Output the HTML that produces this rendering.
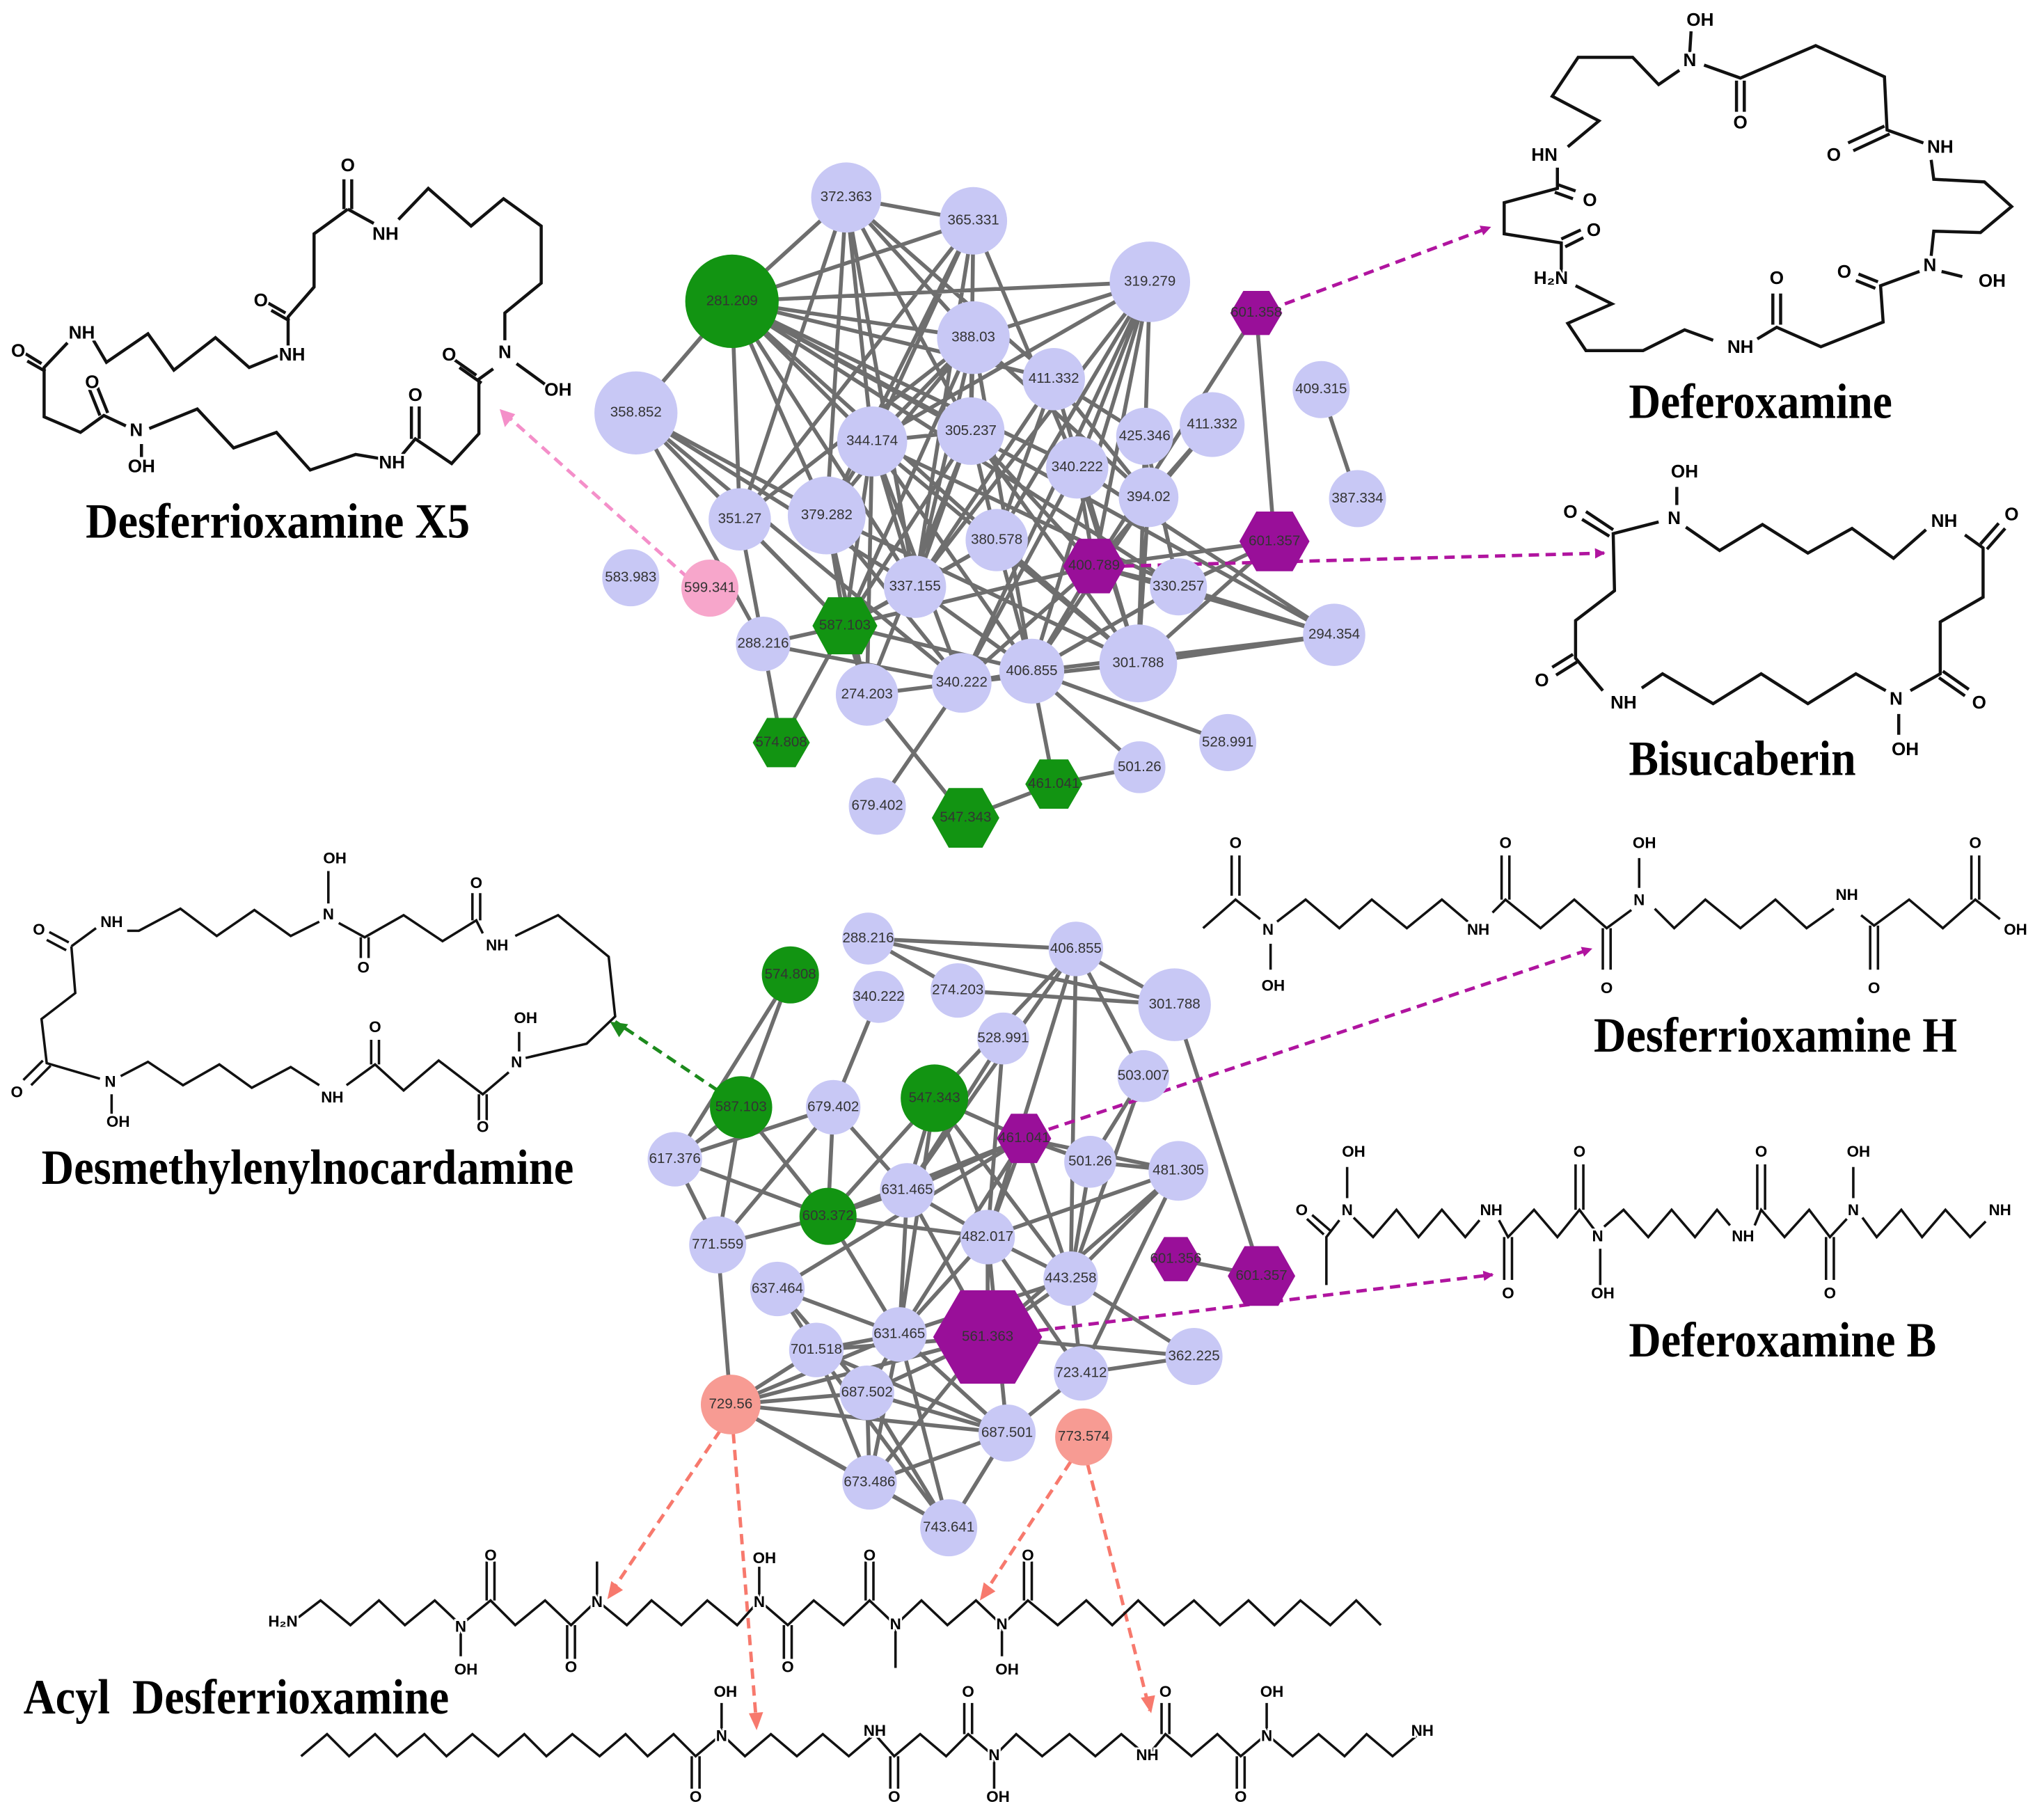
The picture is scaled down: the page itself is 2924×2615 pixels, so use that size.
<!DOCTYPE html>
<html><head><meta charset="utf-8"><style>
html,body{margin:0;padding:0;background:#fff}
svg{display:block}
.n{font-family:"Liberation Sans",sans-serif;font-size:11px;fill:#333;text-anchor:middle;dominant-baseline:middle}
.t{font-family:"Liberation Serif",serif;font-weight:bold;font-size:38px;fill:#000}
.a{font-family:"Liberation Sans",sans-serif;font-weight:bold;font-size:14px;fill:#000;text-anchor:middle;dominant-baseline:middle;stroke:#fff;stroke-width:3px;paint-order:stroke}
.b{font-family:"Liberation Sans",sans-serif;font-weight:bold;font-size:12px;fill:#000;text-anchor:middle;dominant-baseline:middle;stroke:#fff;stroke-width:3px;paint-order:stroke}
.s{fill:none;stroke:#111;stroke-width:2.4;stroke-linejoin:miter}
.s2{fill:none;stroke:#111;stroke-width:1.9;stroke-linejoin:miter}
.e{stroke:#6e6e6e;stroke-width:3}
</style></head><body>
<svg width="2924" height="2615" viewBox="0 0 1568 1402" xmlns="http://www.w3.org/2000/svg">
<defs>
<marker id="mp" markerWidth="8" markerHeight="8" refX="7" refY="4" orient="auto" markerUnits="userSpaceOnUse" viewBox="0 0 8 8"><path d="M0,0L8,4L0,8z" fill="#b0149f"/></marker>
</defs>
<g class="e">
<path d="M564,232L652,152M564,232L750,170M564,232L886,217M564,232L750,260M564,232L672,340M564,232L748,332M564,232L830,360M564,232L768,416M564,232L490,318M564,232L637,397M564,232L705,452M564,232L908,452M564,232L1028,489M564,232L812,292M564,232L570,400
M652,152L750,260M652,152L672,340M652,152L748,332M652,152L637,397M652,152L705,452M652,152L812,292M652,152L750,170M652,152L570,400
M750,170L672,340M750,170L637,397M750,170L748,332M750,170L705,452M750,170L570,400M750,170L830,360
M886,217L750,260M886,217L672,340M886,217L843,436M886,217L877,511M886,217L795,517M886,217L741,526M886,217L768,416M886,217L705,452M886,217L830,360
M750,260L672,340M750,260L748,332M750,260L637,397M750,260L705,452M750,260L795,517M750,260L651,482M750,260L885,383M750,260L570,400
M812,292L882,336M812,292L768,416M812,292L705,452M812,292L885,383M812,292L877,511
M490,318L651,482M490,318L588,496M490,318L637,397M490,318L705,452M490,318L741,526
M672,340L748,332M672,340L637,397M672,340L705,452M672,340L651,482M672,340L795,517M672,340L877,511M672,340L908,452M672,340L741,526M672,340L668,535
M748,332L768,416M748,332L705,452M748,332L651,482M748,332L843,436M748,332L877,511M748,332L668,535
M968,241L982,417M968,241L843,436M934,327L843,436M1018,300L1046,384M934,327L885,383M882,336L885,383M882,336L908,452
M830,360L877,511M830,360L741,526M830,360L843,436M830,360L1028,489M885,383L877,511M885,383L795,517
M570,400L651,482M570,400L588,496M637,397L651,482M637,397L668,535M637,397L741,526M637,397L877,511
M768,416L705,452M768,416L651,482M768,416L795,517M768,416L877,511M843,436L982,417M843,436L908,452M843,436L795,517M843,436L741,526M843,436L651,482M843,436L1028,489
M982,417L908,452M982,417L877,511M908,452L1028,489M877,511L1028,489M795,517L1028,489M877,511L741,526
M705,452L651,482M705,452L795,517M651,482L588,496M651,482L668,535M651,482L602,572M651,482L795,517M588,496L602,572M588,496L741,526
M668,535L744,630M741,526L676,621M741,526L795,517M795,517L878,591M795,517L946,572M795,517L812,604M812,604L878,591M744,630L812,604M741,526L668,535M908,452L795,517"/>
</g>
<g class="e">
<path d="M669,723L829,731M669,723L905,774M669,723L738,763M609,751L571,853M609,751L520,893M677,768L642,853M738,763L905,774M829,731L905,774M829,731L761,953M829,731L699,917M829,731L720,846M829,731L825,985M829,731L881,829M905,774L972,983
M773,800L699,917M773,800L761,953M881,829L840,895M881,829L825,985
M571,853L638,937M571,853L520,893M571,853L553,959M642,853L638,937M642,853L553,959M642,853L520,893M642,853L699,917
M720,846L699,917M720,846L761,953M720,846L693,1028M720,846L638,937M720,846L789,877M720,846L825,985
M789,877L840,895M789,877L908,902M789,877L761,953M789,877L638,937M789,877L699,917M789,877L825,985M789,877L693,1028M789,877L599,993
M840,895L908,902M840,895L825,985M908,902L825,985M908,902L761,953M908,902L833,1058M908,902L761,1030
M520,893L638,937M520,893L553,959M553,959L638,937M553,959L563,1082M638,937L699,917M638,937L761,953M638,937L693,1028
M699,917L761,953M699,917L693,1028M699,917L761,1030M761,953L825,985M761,953L693,1028M761,953L761,1030M761,953L833,1058M761,953L776,1104
M906,970L972,983M825,985L920,1045M825,985L761,1030M825,985L833,1058M825,985L693,1028
M599,993L693,1028M599,993L629,1040M599,993L668,1073M693,1028L776,1104M693,1028L668,1073M693,1028L629,1040M693,1028L731,1177M693,1028L670,1142
M761,1030L920,1045M761,1030L668,1073M761,1030L670,1142M761,1030L629,1040M761,1030L563,1082M833,1058L920,1045M833,1058L776,1104
M629,1040L563,1082M629,1040L776,1104M629,1040L731,1177M563,1082L668,1073M563,1082L776,1104M563,1082L670,1142M563,1082L731,1177M563,1082L693,1028
M668,1073L776,1104M668,1073L670,1142M668,1073L731,1177M776,1104L731,1177M776,1104L670,1142M670,1142L731,1177M629,1040L670,1142"/>
</g>
<g fill="none" stroke-width="2.6" stroke-dasharray="8,5">
<line x1="530" y1="445" x2="385" y2="315" stroke="#f48fc9"/>
<line x1="990" y1="234" x2="1148" y2="175" stroke="#b0149f" marker-end="url(#mp)"/>
<line x1="866" y1="436" x2="1236" y2="426" stroke="#b0149f" marker-end="url(#mp)"/>
<line x1="553" y1="840" x2="474" y2="787" stroke="#1c8a1c"/>
<line x1="808" y1="870" x2="1226" y2="731" stroke="#b0149f" marker-end="url(#mp)"/>
<line x1="800" y1="1025" x2="1150" y2="982" stroke="#b0149f" marker-end="url(#mp)"/>
<line x1="555" y1="1102" x2="470" y2="1228" stroke="#f7796d"/>
<line x1="565" y1="1104" x2="583" y2="1330" stroke="#f7796d"/>
<line x1="825" y1="1126" x2="757" y2="1230" stroke="#f7796d"/>
<line x1="838" y1="1128" x2="886" y2="1318" stroke="#f7796d"/>
</g>
<g>
<path d="M385,315l4,14l8,-10z" fill="#f48fc9"/>
<path d="M470,787l14,2l-7,10z" fill="#1c8a1c"/>
<path d="M468,1232l3,-14l9,7z" fill="#f7796d"/>
<path d="M583,1333l-6,-13l11,-1z" fill="#f7796d"/>
<path d="M755,1233l3,-14l9,7z" fill="#f7796d"/>
<path d="M887,1320l-8,-12l11,-2z" fill="#f7796d"/>
</g>
<g fill="#c8c8f5">
<circle cx="652" cy="152" r="27"/><circle cx="750" cy="170" r="26"/><circle cx="886" cy="217" r="31"/><circle cx="750" cy="260" r="28"/><circle cx="812" cy="292" r="24"/><circle cx="1018" cy="300" r="22"/><circle cx="490" cy="318" r="32"/><circle cx="672" cy="340" r="27"/><circle cx="748" cy="332" r="26"/><circle cx="882" cy="336" r="22"/><circle cx="934" cy="327" r="25"/><circle cx="830" cy="360" r="24"/><circle cx="885" cy="383" r="23"/><circle cx="1046" cy="384" r="22"/><circle cx="570" cy="400" r="24"/><circle cx="637" cy="397" r="30"/><circle cx="768" cy="416" r="24"/><circle cx="908" cy="452" r="22"/><circle cx="486" cy="445" r="22"/><circle cx="705" cy="452" r="24"/><circle cx="588" cy="496" r="21"/><circle cx="1028" cy="489" r="24"/><circle cx="877" cy="511" r="30"/><circle cx="795" cy="517" r="25"/><circle cx="741" cy="526" r="23"/><circle cx="668" cy="535" r="24"/><circle cx="946" cy="572" r="22"/><circle cx="878" cy="591" r="20"/><circle cx="676" cy="621" r="22"/>
</g>
<circle cx="564" cy="232" r="36" fill="#129412"/>
<circle cx="547" cy="453" r="22" fill="#f7a6cb"/>
<g fill="#990f99">
<polygon points="948,241 958,224 978,224 988,241 978,258 958,258"/>
<polygon points="819,436 831,415 855,415 867,436 855,457 831,457"/>
<polygon points="955,417 968,394 996,394 1009,417 996,440 968,440"/>
</g>
<g fill="#129412">
<polygon points="626,482 638,460 664,460 676,482 664,504 638,504"/>
<polygon points="580,572 591,553 613,553 624,572 613,591 591,591"/>
<polygon points="790,604 801,585 823,585 834,604 823,623 801,623"/>
<polygon points="718,630 731,607 757,607 770,630 757,653 731,653"/>
</g>
<g class="n">
<text x="652" y="152">372.363</text><text x="750" y="170">365.331</text><text x="564" y="232">281.209</text><text x="886" y="217">319.279</text><text x="968" y="241">601.358</text><text x="750" y="260">388.03</text><text x="812" y="292">411.332</text><text x="1018" y="300">409.315</text><text x="490" y="318">358.852</text><text x="672" y="340">344.174</text><text x="748" y="332">305.237</text><text x="882" y="336">425.346</text><text x="934" y="327">411.332</text><text x="830" y="360">340.222</text><text x="885" y="383">394.02</text><text x="1046" y="384">387.334</text><text x="570" y="400">351.27</text><text x="637" y="397">379.282</text><text x="768" y="416">380.578</text><text x="843" y="436">400.789</text><text x="982" y="417">601.357</text><text x="908" y="452">330.257</text><text x="486" y="445">583.983</text><text x="547" y="453">599.341</text><text x="705" y="452">337.155</text><text x="651" y="482">587.103</text><text x="588" y="496">288.216</text><text x="1028" y="489">294.354</text><text x="877" y="511">301.788</text><text x="795" y="517">406.855</text><text x="741" y="526">340.222</text><text x="668" y="535">274.203</text><text x="946" y="572">528.991</text><text x="602" y="572">574.808</text><text x="878" y="591">501.26</text><text x="812" y="604">461.041</text><text x="676" y="621">679.402</text><text x="744" y="630">547.343</text>
</g>
<g fill="#c8c8f5">
<circle cx="669" cy="723" r="20"/><circle cx="829" cy="731" r="21"/><circle cx="677" cy="768" r="20"/><circle cx="738" cy="763" r="21"/><circle cx="905" cy="774" r="28"/><circle cx="773" cy="800" r="20"/><circle cx="881" cy="829" r="20"/><circle cx="642" cy="853" r="21"/><circle cx="840" cy="895" r="20"/><circle cx="908" cy="902" r="23"/><circle cx="520" cy="893" r="21"/><circle cx="699" cy="917" r="21"/><circle cx="761" cy="953" r="21"/><circle cx="553" cy="959" r="22"/><circle cx="825" cy="985" r="21"/><circle cx="599" cy="993" r="21"/><circle cx="693" cy="1028" r="21"/><circle cx="629" cy="1040" r="21"/><circle cx="833" cy="1058" r="21"/><circle cx="920" cy="1045" r="22"/><circle cx="668" cy="1073" r="21"/><circle cx="776" cy="1104" r="22"/><circle cx="670" cy="1142" r="21"/><circle cx="731" cy="1177" r="22"/>
</g>
<g fill="#129412">
<circle cx="609" cy="751" r="22"/><circle cx="571" cy="853" r="24"/><circle cx="720" cy="846" r="26"/><circle cx="638" cy="937" r="22"/>
</g>
<g fill="#f79b93"><circle cx="563" cy="1082" r="23"/><circle cx="835" cy="1107" r="22"/></g>
<g fill="#990f99">
<polygon points="768,877 779,858 799,858 810,877 799,896 779,896"/>
<polygon points="887,970 897,953 915,953 925,970 915,987 897,987"/>
<polygon points="946,983 959,960 985,960 998,983 985,1006 959,1006"/>
<polygon points="719,1030 740,994 782,994 803,1030 782,1066 740,1066"/>
</g>
<g class="n">
<text x="669" y="723">288.216</text><text x="829" y="731">406.855</text><text x="609" y="751">574.808</text><text x="677" y="768">340.222</text><text x="738" y="763">274.203</text><text x="905" y="774">301.788</text><text x="773" y="800">528.991</text><text x="881" y="829">503.007</text><text x="571" y="853">587.103</text><text x="642" y="853">679.402</text><text x="720" y="846">547.343</text><text x="789" y="877">461.041</text><text x="840" y="895">501.26</text><text x="908" y="902">481.305</text><text x="520" y="893">617.376</text><text x="638" y="937">603.372</text><text x="699" y="917">631.465</text><text x="761" y="953">482.017</text><text x="553" y="959">771.559</text><text x="906" y="970">601.356</text><text x="972" y="983">601.357</text><text x="825" y="985">443.258</text><text x="599" y="993">637.464</text><text x="761" y="1030">561.363</text><text x="693" y="1028">631.465</text><text x="629" y="1040">701.518</text><text x="833" y="1058">723.412</text><text x="920" y="1045">362.225</text><text x="563" y="1082">729.56</text><text x="668" y="1073">687.502</text><text x="776" y="1104">687.501</text><text x="835" y="1107">773.574</text><text x="670" y="1142">673.486</text><text x="731" y="1177">743.641</text>
</g>

<path class="s" d="M265,161L265,138M271,161L271,138M268,161L288,172M307,169L330,145L363,174L388,153L417,174L417,218L389,241L389,262M398,280L420,296M380,284L369,292L369,334L348,357L320,338L310,350M367,289L350,277M371,295L354,283M317,338L317,313M323,338L323,313M292,353L274,350L239,362L213,333L180,345L152,315L115,330M109,342L109,352M97,328L80,320L62,333L34,321L34,283L52,264M77,320L69,300M83,318L75,298M32,280L19,272M35,286L21,278M72,262L82,279L114,257L134,285L166,260L192,283L214,274M222,266L222,244L242,221L242,180L268,161M220,241L206,233M223,247L209,239"/>
<g class="a">
<text x="268" y="128">O</text><text x="297" y="181">NH</text><text x="389" y="272">N</text><text x="430" y="301">OH</text><text x="346" y="274">O</text><text x="320" y="305">O</text><text x="302" y="357">NH</text><text x="105" y="332">N</text><text x="109" y="360">OH</text><text x="71" y="295">O</text><text x="14" y="271">O</text><text x="63" y="257">NH</text><text x="225" y="274">NH</text><text x="201" y="232">O</text>
</g>
<text class="t" x="66" y="414" textLength="296" lengthAdjust="spacingAndGlyphs">Desferrioxamine X5</text>

<path class="s" d="M1303,24L1302,40M1313,50L1341,60L1399,35L1452,59L1454,100L1482,110M1488,123L1490,138L1529,140L1550,159L1526,179L1490,178L1488,197M1479,209L1449,220L1451,248L1403,267L1369,252L1354,261M1320,262L1298,254L1266,270L1222,270L1208,249L1242,234L1214,220M1203,210L1203,187L1159,180L1159,156L1200,145L1200,129M1208,113L1232,93L1196,74L1216,44L1258,44L1278,65L1294,54
M1338,62L1338,86M1344,62L1344,86M1452,97L1424,110M1456,103L1428,116M1496,209L1512,213M1447,217L1432,211M1445,222L1430,216M1366,250L1366,226M1372,250L1372,226M1203,184L1218,177M1206,190L1220,183M1200,142L1214,147M1198,148L1212,153"/>
<g class="a">
<text x="1310" y="16">OH</text><text x="1302" y="47">N</text><text x="1341" y="95">O</text><text x="1413" y="120">O</text><text x="1495" y="114">NH</text><text x="1487" y="205">N</text><text x="1535" y="217">OH</text><text x="1421" y="210">O</text><text x="1369" y="215">O</text><text x="1341" y="268">NH</text><text x="1195" y="215">H₂N</text><text x="1228" y="178">O</text><text x="1225" y="155">O</text><text x="1190" y="120">HN</text>
</g>
<text class="t" x="1255" y="322" textLength="203" lengthAdjust="spacingAndGlyphs">Deferoxamine</text>

<path class="s" d="M1292,375L1292,389M1278,402L1243,411L1244,455L1214,478L1214,507L1235,532M1265,530L1281,519L1320,542L1357,519L1393,542L1430,519L1453,532M1463,550L1463,566M1472,532L1495,519L1495,479L1528,460L1528,422L1514,412M1484,408L1459,430L1427,407L1393,426L1358,404L1325,424L1299,406
M1243,408L1222,394M1240,413L1219,400M1212,504L1196,514M1215,510L1199,520M1497,517L1517,531M1494,522L1514,536M1526,419L1540,403M1531,423L1545,407"/>
<g class="a">
<text x="1298" y="364">OH</text><text x="1290" y="400">N</text><text x="1210" y="395">O</text><text x="1498" y="402">NH</text><text x="1550" y="397">O</text><text x="1188" y="525">O</text><text x="1251" y="542">NH</text><text x="1461" y="539">N</text><text x="1525" y="542">O</text><text x="1468" y="578">OH</text>
</g>
<text class="t" x="1255" y="597" textLength="175" lengthAdjust="spacingAndGlyphs">Bisucaberin</text>

<path class="s2" d="M927,715L952,693L971,708M949,690L949,659M955,690L955,659M979,727L979,747M984,710L1006,693L1032,715L1057,693L1084,715L1111,693L1131,710M1150,703L1160,693L1187,715L1213,693L1238,715L1257,701M1157,693L1157,659M1163,693L1163,659M1235,715L1235,747M1241,715L1241,747M1263,684L1263,661M1275,700L1290,715L1314,693L1341,715L1368,693L1392,715L1413,700M1434,705L1444,713L1471,693L1497,715L1522,693L1541,708M1441,713L1441,747M1447,713L1447,747M1519,693L1519,659M1525,693L1525,659"/>
<g class="b">
<text x="952" y="650">O</text><text x="977" y="717">N</text><text x="981" y="760">OH</text><text x="1139" y="717">NH</text><text x="1160" y="650">O</text><text x="1238" y="762">O</text><text x="1263" y="694">N</text><text x="1267" y="650">OH</text><text x="1423" y="690">NH</text><text x="1444" y="762">O</text><text x="1522" y="650">O</text><text x="1553" y="717">OH</text>
</g>
<text class="t" x="1228" y="810" textLength="280" lengthAdjust="spacingAndGlyphs">Desferrioxamine H</text>

<path class="s2" d="M55,729L74,715M98,717L107,717L139,700L167,721L196,701L224,721L246,710M253,696L253,671M261,711L281,722L311,705L341,725L367,709L372,719M278,722L278,738M284,722L284,738M364,709L364,688M370,709L370,688M397,721L430,705L469,737L474,783L452,804L405,815M400,810L400,795M392,826L372,843L338,817L311,840L289,820L267,836M369,843L369,863M375,843L375,863M286,820L286,801M292,820L292,801M246,836L224,822L194,838L169,820L141,836L114,818L93,829M86,843L86,858M77,831L36,819L32,785L58,765L55,729M53,726L38,718M51,732L36,724M33,817L18,832M39,821L24,836"/>
<g class="b">
<text x="258" y="662">OH</text><text x="253" y="705">N</text><text x="30" y="717">O</text><text x="86" y="711">NH</text><text x="280" y="746">O</text><text x="367" y="681">O</text><text x="383" y="729">NH</text><text x="405" y="785">OH</text><text x="398" y="819">N</text><text x="372" y="869">O</text><text x="289" y="792">O</text><text x="256" y="846">NH</text><text x="85" y="834">N</text><text x="91" y="865">OH</text><text x="13" y="842">O</text>
</g>
<text class="t" x="32" y="912" textLength="410" lengthAdjust="spacingAndGlyphs">Desmethylenylnocardamine</text>

<path class="s2" d="M1022,990L1022,953L1032,940M1020,951L1007,939M1025,948L1011,936M1038,923L1038,899M1043,938L1058,953L1076,932L1093,953L1111,932L1129,953L1140,940M1155,940L1162,953L1182,932L1200,953L1217,932L1229,948M1159,953L1159,986M1165,953L1165,986M1214,932L1214,897M1220,932L1220,897M1233,962L1233,990M1236,945L1251,932L1270,953L1288,932L1306,953L1323,932L1333,944M1352,944L1357,932L1375,953L1394,932L1410,953L1423,939M1354,932L1354,897M1360,932L1360,897M1407,953L1407,986M1413,953L1413,986M1428,923L1428,899M1435,938L1446,953L1465,932L1481,953L1499,932L1518,953L1530,941"/>
<g class="b">
<text x="1003" y="933">O</text><text x="1043" y="888">OH</text><text x="1038" y="933">N</text><text x="1149" y="933">NH</text><text x="1162" y="997">O</text><text x="1217" y="888">O</text><text x="1231" y="953">N</text><text x="1235" y="997">OH</text><text x="1343" y="953">NH</text><text x="1357" y="888">O</text><text x="1410" y="997">O</text><text x="1428" y="933">N</text><text x="1432" y="888">OH</text><text x="1541" y="933">NH</text>
</g>
<text class="t" x="1255" y="1045" textLength="237" lengthAdjust="spacingAndGlyphs">Deferoxamine B</text>

<path class="s2" d="M230,1246L247,1233L270,1252L292,1233L312,1252L335,1233L355,1252L378,1233L397,1252L420,1233L440,1252L460,1233L483,1252L502,1233L525,1252L545,1233L568,1252L585,1233L607,1252L627,1233L650,1252L670,1233L690,1252L710,1233L730,1252L752,1233L772,1252L792,1233L815,1252L837,1233L857,1252L877,1233L897,1252L920,1233L940,1252L962,1233L982,1252L1002,1233L1025,1252L1045,1233L1064,1252
M355,1252L355,1276M375,1233L375,1203M381,1233L381,1203M437,1252L437,1278M443,1252L443,1278M460,1233L460,1203M585,1233L585,1207M604,1252L604,1278M610,1252L610,1278M667,1233L667,1203M673,1233L673,1203M690,1252L690,1285M772,1252L772,1276M789,1233L789,1203M795,1233L795,1203"/>
<g class="b">
<text x="218" y="1250">H₂N</text><text x="355" y="1254">N</text><text x="359" y="1287">OH</text><text x="378" y="1199">O</text><text x="440" y="1285">O</text><text x="460" y="1235">N</text><text x="585" y="1235">N</text><text x="589" y="1201">OH</text><text x="607" y="1285">O</text><text x="670" y="1199">O</text><text x="690" y="1252">N</text><text x="772" y="1252">N</text><text x="776" y="1287">OH</text><text x="792" y="1199">O</text>
</g>
<text class="t" x="18" y="1320" textLength="328" lengthAdjust="spacingAndGlyphs">Acyl&#160; Desferrioxamine</text>

<path class="s2" d="M232,1353L252,1336L269,1353L289,1336L306,1353L327,1336L344,1353L364,1336L384,1353L404,1336L421,1353L441,1336L462,1353L482,1336L499,1353L519,1336L536,1353L556,1336L574,1353L594,1336L614,1353L634,1336L654,1353L674,1336L689,1353L709,1336L729,1353L746,1336L766,1353L783,1336L803,1353L824,1336L844,1353L864,1336L884,1353L898,1336L918,1353L938,1336L956,1353L976,1336L996,1353L1016,1336L1036,1353L1053,1336L1073,1353L1093,1336
M533,1353L533,1378M539,1353L539,1378M556,1336L556,1312M686,1353L686,1378M692,1353L692,1378M743,1336L743,1312M749,1336L749,1312M766,1353L766,1378M895,1336L895,1312M901,1336L901,1312M953,1353L953,1378M959,1353L959,1378M976,1336L976,1312"/>
<g class="b">
<text x="559" y="1304">OH</text><text x="556" y="1338">N</text><text x="536" y="1385">O</text><text x="674" y="1334">NH</text><text x="689" y="1385">O</text><text x="746" y="1304">O</text><text x="766" y="1353">N</text><text x="769" y="1385">OH</text><text x="884" y="1353">NH</text><text x="898" y="1304">O</text><text x="956" y="1385">O</text><text x="980" y="1304">OH</text><text x="976" y="1338">N</text><text x="1096" y="1334">NH</text>
</g>
</svg>
</body></html>
